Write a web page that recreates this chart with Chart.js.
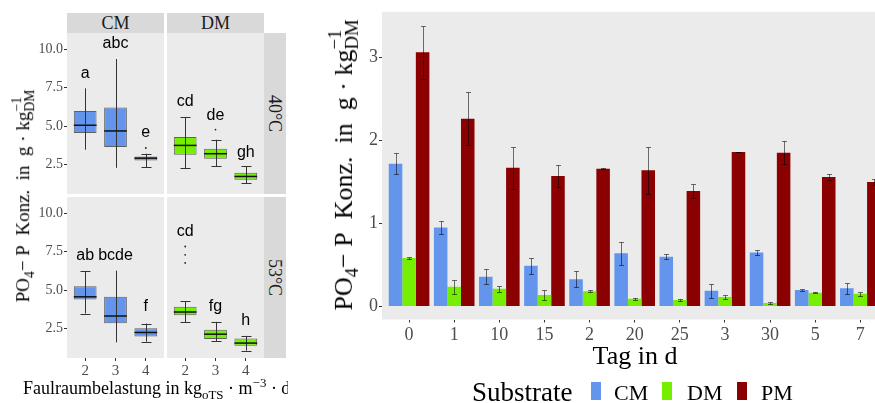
<!DOCTYPE html>
<html>
<head>
<meta charset="utf-8">
<script src="https://cdn.jsdelivr.net/npm/chart.js@4.4.0/dist/chart.umd.min.js"></script>
<style>
  body { margin: 0; width: 875px; height: 403px; overflow: hidden; background: #fff; position: relative; font-family: "Liberation Serif", serif; }
  canvas { position: absolute; }
  .strip { position: absolute; background: #D9D9D9; color: #1A1A1A; font-size: 18px; display: flex; align-items: center; justify-content: center; }
  .strip.v span { display: inline-block; transform: rotate(90deg); white-space: nowrap; }
  .txt { position: absolute; white-space: nowrap; line-height: 1; color: #000; }
  .rot { transform: translate(-50%, -50%) rotate(-90deg); }
  .ss { display: inline-block; vertical-align: -0.32em; font-size: 0.72em; line-height: 0.92; }
  .ss span { display: block; }
  .key { position: absolute; width: 10px; height: 18px; top: 382px; }
</style>
</head>
<body>
<!-- left: faceted box plots -->
<canvas id="cm40" width="140" height="161" style="left:24px;top:33px"></canvas>
<canvas id="dm40" width="97" height="161" style="left:167px;top:33px"></canvas>
<canvas id="cm53" width="140" height="186" style="left:24px;top:197px"></canvas>
<canvas id="dm53" width="97" height="186" style="left:167px;top:197px"></canvas>

<div class="strip" style="left:67px;top:13px;width:97px;height:20px">CM</div>
<div class="strip" style="left:167px;top:13px;width:97px;height:20px">DM</div>
<div class="strip v" style="left:264px;top:33px;width:22px;height:161px"><span>40°C</span></div>
<div class="strip v" style="left:264px;top:197px;width:22px;height:161px"><span>53°C</span></div>

<div class="txt rot" style="left:24px;top:196px;font-size:19px">PO<sub style="font-size:0.72em">4</sub>− P&nbsp; Konz.&nbsp; in&nbsp; g · kg<span class="ss"><span>−1</span><span>DM</span></span></div>
<div class="txt" style="left:23px;top:375px;width:265px;overflow:hidden;font-size:18px;line-height:1.2">Faulraumbelastung in kg<sub style="font-size:0.72em">oTS</sub> · m<sup style="font-size:0.72em">−3</sup> · d<sup style="font-size:0.72em">−1</sup></div>

<!-- right: bar chart -->
<canvas id="bars" width="596" height="403" style="left:295px;top:0px"></canvas>
<div class="txt rot" style="left:344px;top:165px;font-size:26px">PO<sub style="font-size:0.72em">4</sub>− P&nbsp; Konz.&nbsp; in&nbsp; g · kg<span class="ss"><span>−1</span><span>DM</span></span></div>
<div class="txt" style="left:635px;top:343px;font-size:26px;transform:translateX(-50%)">Tag in d</div>
<div class="txt" style="left:472px;top:379px;font-size:27px">Substrate</div>
<div class="key" style="left:591px;background:#6495ED"></div>
<div class="txt" style="left:614px;top:382px;font-size:22px">CM</div>
<div class="key" style="left:662px;background:#76EE00"></div>
<div class="txt" style="left:687px;top:382px;font-size:22px">DM</div>
<div class="key" style="left:737px;background:#8B0000"></div>
<div class="txt" style="left:761px;top:382px;font-size:22px">PM</div>

<script>
// ---- left panel: PO4-P by Faulraumbelastung, [lower whisker, Q1, median, Q3, upper whisker]
const loads = ['2', '3', '4'];
const leftTicks = [2.5, 5.0, 7.5, 10.0];

const boxCM40 = [[3.46, 4.55, 5.05, 5.98, 7.45], [2.28, 3.63, 4.68, 6.20, 9.36], [2.32, 2.76, 2.91, 3.02, 3.20]];
const boxDM40 = [[2.26, 3.13, 3.74, 4.28, 5.59], [2.37, 2.87, 3.20, 3.53, 4.11], [1.28, 1.50, 1.72, 1.96, 2.39]];
const boxCM53 = [[3.47, 4.39, 4.56, 5.25, 6.22], [1.60, 2.84, 3.31, 4.56, 6.26], [1.64, 1.98, 2.24, 2.52, 2.82]];
const boxDM53 = [[2.89, 3.36, 3.57, 3.92, 4.28], [1.66, 1.81, 2.13, 2.41, 2.93], [1.06, 1.38, 1.55, 1.85, 2.02]];

const outCM40 = [[], [], [3.57]];
const outDM40 = [[], [4.77], []];
const outCM53 = [[], [], []];
const outDM53 = [[7.83, 7.29, 6.76], [], []];

const letCM40 = ['a', 'abc', 'e'];
const letDM40 = ['cd', 'de', 'gh'];
const letCM53 = ['ab', 'bcde', 'f'];
const letDM53 = ['cd', 'fg', 'h'];
const letYCM40 = [8.43, 10.39, 4.56];
const letYDM40 = [6.57, 5.70, 3.30];
const letYCM53 = [7.25, 7.25, 3.91];
const letYDM53 = [8.80, 3.91, 3.04];

// ---- right panel: mean and error per day
const days = ['0', '1', '10', '15', '2', '20', '25', '3', '30', '5', '7'];
const cmMean = [1.72, 0.95, 0.36, 0.49, 0.33, 0.64, 0.60, 0.19, 0.65, 0.20, 0.22];
const cmErr = [0.13, 0.08, 0.09, 0.10, 0.10, 0.14, 0.03, 0.085, 0.025, 0.015, 0.065];
const dmMean = [0.584, 0.237, 0.213, 0.14, 0.185, 0.094, 0.078, 0.114, 0.042, 0.165, 0.153];
const dmErr = [0.008, 0.085, 0.032, 0.065, 0.01, 0.01, 0.008, 0.025, 0.01, 0.005, 0.025];
const pmMean = [3.06, 2.26, 1.67, 1.57, 1.66, 1.64, 1.39, 1.86, 1.85, 1.56, 1.50];
const pmErr = [0.315, 0.32, 0.25, 0.13, 0.005, 0.28, 0.08, 0.003, 0.14, 0.035, 0.04];
const rightTicks = [0, 1, 2, 3];

const panelBg = {
    id: 'panelBg',
    beforeDraw(chart) {
        const a = chart.chartArea, ctx = chart.ctx;
        ctx.save();
        ctx.fillStyle = '#EBEBEB';
        ctx.fillRect(a.left, a.top, a.right - a.left, a.bottom - a.top);
        ctx.restore();
    }
};

// whiskers, medians, outliers and letters on top of the floating box bars
const boxExtras = {
    id: 'boxExtras',
    afterDatasetsDraw(chart) {
        const ds = chart.data.datasets[0];
        const meta = chart.getDatasetMeta(0);
        const y = chart.scales.y, ctx = chart.ctx;
        ctx.save();
        meta.data.forEach((bar, i) => {
            const s = ds.stats[i];
            const x = Math.round(bar.x) + 0.5;
            ctx.strokeStyle = '#333';
            ctx.lineWidth = 1;
            ctx.beginPath();
            ctx.moveTo(x, y.getPixelForValue(s[0]));
            ctx.lineTo(x, y.getPixelForValue(s[4]));
            if (ds.caps[i]) {
                [s[0], s[4]].forEach(v => {
                    const py = Math.round(y.getPixelForValue(v)) + 0.5;
                    ctx.moveTo(x - 5, py);
                    ctx.lineTo(x + 5, py);
                });
            }
            ctx.stroke();
            ctx.strokeStyle = '#111';
            ctx.lineWidth = 1.5;
            ctx.beginPath();
            const pm = y.getPixelForValue(s[2]);
            ctx.moveTo(bar.x - bar.width / 2, pm);
            ctx.lineTo(bar.x + bar.width / 2, pm);
            ctx.stroke();
            ctx.fillStyle = '#222';
            ds.outliers[i].forEach(v => {
                ctx.beginPath();
                ctx.arc(bar.x, y.getPixelForValue(v), 0.9, 0, Math.PI * 2);
                ctx.fill();
            });
            ctx.fillStyle = '#000';
            ctx.font = '16px "Liberation Sans", Arial, sans-serif';
            ctx.textAlign = 'center';
            ctx.textBaseline = 'middle';
            ctx.fillText(ds.letters[i], bar.x, y.getPixelForValue(ds.letterY[i]));
        });
        ctx.restore();
    }
};

function boxFacet(id, stats, outliers, letters, letterY, color, caps, showY, showX) {
    new Chart(document.getElementById(id), {
        type: 'bar',
        data: {
            datasets: [{
                data: stats.map((s, i) => ({x: i, y: [s[1], s[3]]})),
                stats: stats,
                outliers: outliers,
                letters: letters,
                letterY: letterY,
                caps: caps,
                backgroundColor: color,
                borderColor: 'rgba(51,51,51,0.75)',
                borderWidth: 1,
                borderSkipped: false,
                categoryPercentage: 0.75,
                barPercentage: 1
            }]
        },
        options: {
            responsive: false,
            animation: false,
            events: [],
            layout: {padding: 0},
            plugins: {legend: {display: false}, tooltip: {enabled: false}},
            scales: {
                x: {
                    type: 'linear',
                    display: showX,
                    min: -0.6,
                    max: 2.6,
                    offset: false,
                    afterBuildTicks: s => { s.ticks = loads.map((l, i) => ({value: i})); },
                    afterFit: s => {
                        s.height = showX ? 25 : 0;
                        s.paddingLeft = 0; s.paddingRight = 0;
                    },
                    ticks: {
                        callback: v => loads[v],
                        color: '#4D4D4D',
                        font: {family: 'Liberation Serif', size: 15},
                        padding: 1,
                        maxRotation: 0
                    },
                    grid: {drawOnChartArea: false, drawTicks: true, tickLength: 3, color: '#333', offset: false},
                    border: {display: false}
                },
                y: {
                    display: showY,
                    min: 0.58,
                    max: 11.05,
                    afterBuildTicks: s => { s.ticks = leftTicks.map(v => ({value: v})); },
                    afterFit: s => {
                        s.width = showY ? 43 : 0;
                        s.paddingTop = 0; s.paddingBottom = 0;
                    },
                    ticks: {
                        callback: v => v.toFixed(1),
                        color: '#4D4D4D',
                        font: {family: 'Liberation Serif', size: 14},
                        padding: 1
                    },
                    grid: {drawOnChartArea: false, drawTicks: true, tickLength: 3, color: '#333'},
                    border: {display: false}
                }
            }
        },
        plugins: [panelBg, boxExtras]
    });
}

const CM_COLOR = '#6495ED';
const DM_COLOR = '#76EE00';
boxFacet('cm40', boxCM40, outCM40, letCM40, letYCM40, CM_COLOR, [false, false, true], true, false);
boxFacet('dm40', boxDM40, outDM40, letDM40, letYDM40, DM_COLOR, [true, true, true], false, false);
boxFacet('cm53', boxCM53, outCM53, letCM53, letYCM53, CM_COLOR, [true, false, true], true, true);
boxFacet('dm53', boxDM53, outDM53, letDM53, letYDM53, DM_COLOR, [true, true, true], false, true);

// error bars for the grouped bar chart
const errorBars = {
    id: 'errorBars',
    afterDatasetsDraw(chart) {
        const y = chart.scales.y, ctx = chart.ctx;
        ctx.save();
        ctx.strokeStyle = 'rgba(0,0,0,0.55)';
        ctx.lineWidth = 1;
        chart.data.datasets.forEach((ds, di) => {
            chart.getDatasetMeta(di).data.forEach((bar, i) => {
                const v = ds.data[i].y, e = ds.errors[i];
                const x = Math.round(bar.x) + 0.5;
                const top = Math.round(y.getPixelForValue(v + e)) + 0.5;
                const bot = Math.round(y.getPixelForValue(v - e)) + 0.5;
                ctx.beginPath();
                ctx.moveTo(x, top); ctx.lineTo(x, bot);
                ctx.moveTo(x - 2.5, top); ctx.lineTo(x + 2.5, top);
                ctx.moveTo(x - 2.5, bot); ctx.lineTo(x + 2.5, bot);
                ctx.stroke();
            });
        });
        ctx.restore();
    }
};

const series = [
    {label: 'CM', mean: cmMean, err: cmErr, color: CM_COLOR},
    {label: 'DM', mean: dmMean, err: dmErr, color: DM_COLOR},
    {label: 'PM', mean: pmMean, err: pmErr, color: '#8B0000'}
];

new Chart(document.getElementById('bars'), {
    type: 'bar',
    data: {
        datasets: series.map(s => ({
            label: s.label,
            data: s.mean.map((v, i) => ({x: i, y: v})),
            errors: s.err,
            backgroundColor: s.color,
            borderWidth: 0,
            categoryPercentage: 0.9,
            barPercentage: 1
        }))
    },
    options: {
        responsive: false,
        animation: false,
        events: [],
        layout: {padding: {top: 10, right: 3.6, left: 0, bottom: 0}},
        plugins: {legend: {display: false}, tooltip: {enabled: false}},
        scales: {
            x: {
                type: 'linear',
                min: -0.6,
                max: 10.6,
                offset: false,
                afterBuildTicks: s => { s.ticks = days.map((d, i) => ({value: i})); },
                afterFit: s => { s.height = 83.5; },
                ticks: {
                    callback: v => days[v],
                    color: '#4D4D4D',
                    font: {family: 'Liberation Serif', size: 18},
                    padding: 2,
                    maxRotation: 0,
                    autoSkip: false
                },
                grid: {drawOnChartArea: false, drawTicks: true, tickLength: 3, color: '#333', offset: false},
                border: {display: false}
            },
            y: {
                min: -0.156,
                max: 3.548,
                afterBuildTicks: s => { s.ticks = rightTicks.map(v => ({value: v})); },
                afterFit: s => { s.width = 87; },
                ticks: {
                    color: '#4D4D4D',
                    font: {family: 'Liberation Serif', size: 18},
                    padding: 1
                },
                grid: {drawOnChartArea: false, drawTicks: true, tickLength: 3, color: '#333'},
                border: {display: false}
            }
        }
    },
    plugins: [panelBg, errorBars]
});
</script>
</body>
</html>
